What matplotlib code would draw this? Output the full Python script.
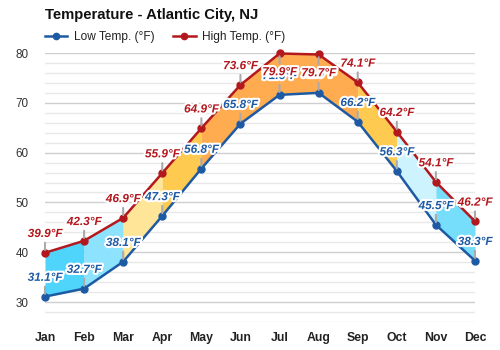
import numpy as np
import matplotlib
matplotlib.use("Agg")
import matplotlib.pyplot as plt
import matplotlib.patheffects as pe
from matplotlib.lines import Line2D

plt.rcParams['font.family'] = ['Liberation Sans', 'DejaVu Sans']

months = ['Jan', 'Feb', 'Mar', 'Apr', 'May', 'Jun', 'Jul', 'Aug', 'Sep', 'Oct', 'Nov', 'Dec']
high = [39.9, 42.3, 46.9, 55.9, 64.9, 73.6, 79.9, 79.7, 74.1, 64.2, 54.1, 46.2]
low = [31.1, 32.7, 38.1, 47.3, 56.8, 65.8, 71.6, 72.0, 66.2, 56.3, 45.5, 38.3]

# colour of the band between one month and the next
band_colors = ['#4fd4fb', '#8de3fd', '#ffe597', '#ffca50', '#ffab4f', '#ffab4f',
               '#ffab4f', '#ffab4f', '#ffca50', '#cdf3ff', '#76ddfb']

low_color = '#1e5aa3'
high_color = '#b3181e'

x = np.arange(len(months))
ymin, ymax = 26, 80

fig = plt.figure(figsize=(5, 3.5), dpi=100)
ax = fig.add_axes([0.09, 28 / 350, 0.86, 269 / 350])

for i in range(len(months) - 1):
    ax.fill_between(x[i:i + 2], low[i:i + 2], high[i:i + 2], color=band_colors[i], lw=0, zorder=1)

ax.plot(x, low, color=low_color, lw=1.8, marker='o', ms=5, zorder=3, clip_on=False)
ax.plot(x, high, color=high_color, lw=1.8, marker='o', ms=5, zorder=3, clip_on=False)

stroke = [pe.withStroke(linewidth=3, foreground='white')]

def add_labels(vals, col):
    for xi, v in zip(x, vals):
        # labels that would run off the top go under the point
        dy = -13.5 if v > ymax - 2 else 13.5
        ax.annotate('%.1f°F' % v, xy=(xi, v), xytext=(0, dy), textcoords='offset points',
                    ha='center', va='center', fontsize=8.5, fontweight='bold', fontstyle='italic',
                    color=col, path_effects=stroke, zorder=4, annotation_clip=False,
                    arrowprops=dict(arrowstyle='-', color='#aaaaaa', lw=1.5,
                                    shrinkA=0, shrinkB=2))

add_labels(low, low_color)
add_labels(high, high_color)

ax.set_xlim(0, 11)
ax.set_ylim(ymin, ymax)
ax.set_yticks([30, 40, 50, 60, 70, 80])
ax.set_yticks(np.arange(26, 80, 2), minor=True)
ax.set_xticks(x)
ax.set_xticklabels(months, fontsize=8.8, fontweight='bold', color='#222222')
ax.tick_params(axis='y', length=0, pad=12, labelsize=8.4, labelcolor='#333333')
ax.tick_params(axis='x', length=0, pad=7)
ax.tick_params(which='minor', length=0)
ax.grid(axis='y', which='major', color='#cfcfcf', lw=1)
ax.grid(axis='y', which='minor', color='#e8e8e8', lw=1)
ax.set_axisbelow(True)
for s in ax.spines.values():
    s.set_visible(False)

fig.text(0.09, 1 - 15 / 350, 'Temperature - Atlantic City, NJ', fontsize=10.7,
         fontweight='bold', color='#111111', ha='left', va='center')

handles = [Line2D([], [], color=low_color, lw=1.8, marker='o', ms=4.5),
           Line2D([], [], color=high_color, lw=1.8, marker='o', ms=4.5)]
fig.legend(handles, ['Low Temp. (°F)', 'High Temp. (°F)'], loc='center left',
           bbox_to_anchor=(0.09, 1 - 37 / 350), ncol=2, frameon=False, fontsize=8.6,
           handlelength=1.85, handletextpad=0.55, columnspacing=1.6,
           borderpad=0, borderaxespad=0, labelcolor='#222222')

fig.savefig('out.png', dpi=100)
